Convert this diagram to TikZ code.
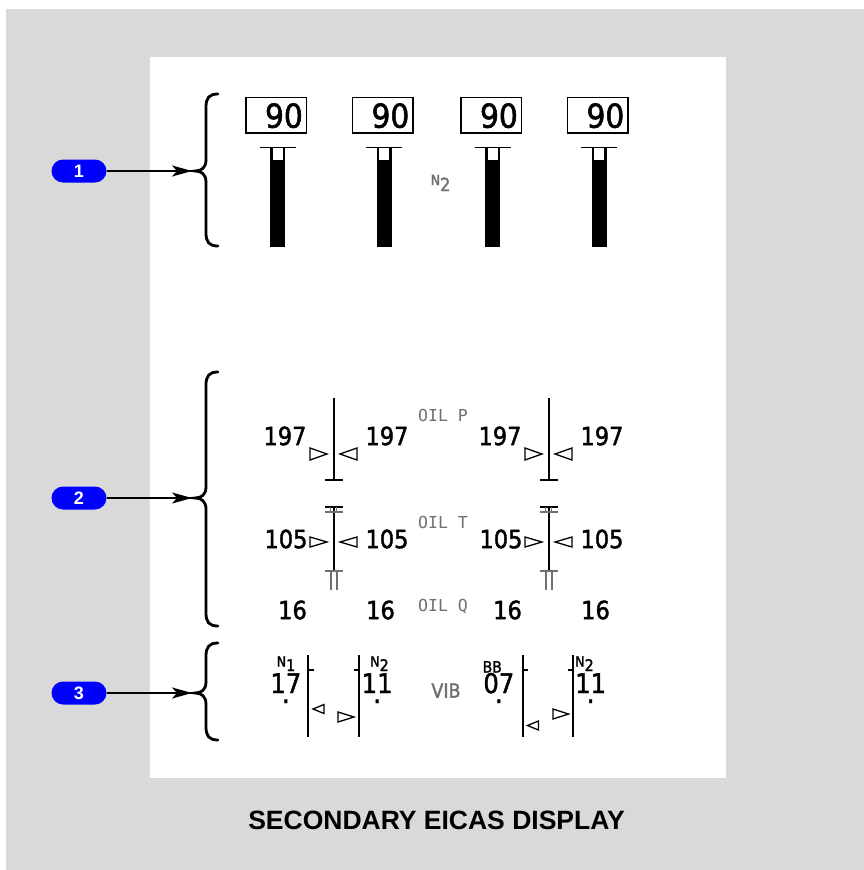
\documentclass[tikz,border=0pt]{standalone}
\usepackage{fontspec}
\setmainfont{DejaVu Sans}
\newfontfamily\digf{DejaVu Sans Condensed}[FakeBold=1.6]
\newfontfamily\monof{DejaVu Sans Mono}
\newfontfamily\titf{Liberation Sans}
\usetikzlibrary{arrows.meta}
\definecolor{bggray}{RGB}{217,217,217}
\definecolor{lblgray}{RGB}{112,112,112}
\definecolor{pillblue}{RGB}{0,0,255}
\newcommand\vnum[2]{#1\makebox[0pt]{\raisebox{-10pt}{.}}#2}
\newcommand\mybrace[4]{%
  \draw[bracestyle] (218,#1) .. controls (209,#1) and (206,{#1+4}) .. (206,{#1+13})
    -- (206,{#2-11}) .. controls (206,{#2-3}) and (201,#2) .. (195,#2)
    .. controls (201,#2) and (206,{#2+3}) .. (206,{#2+11})
    -- (206,{#3-13}) .. controls (206,{#3-4}) and (209,#3) .. (218,#3);
  \coordinate (#4) at (192,#2);}
\begin{document}
\begin{tikzpicture}[x=1pt,y=-1pt,
  bracestyle/.style={line width=2.8pt, line cap=round},
  pill/.style={fill=pillblue, rounded corners=11.5pt, minimum width=55pt, minimum height=23pt,
     inner sep=0pt, text=white, font=\titf\bfseries\fontsize{18}{18}\selectfont},
  callarrow/.style={line width=1.5pt, -{Stealth[length=20pt,width=11pt,inset=5pt]}},
  n2box/.style={draw, line width=1.5pt, minimum width=60.5pt, minimum height=35.5pt, inner sep=0pt},
  bignum/.style={font=\digf\fontsize{33}{33}\selectfont, inner sep=0pt},
  num/.style={font=\digf\fontsize{25}{25}\selectfont, inner sep=0pt},
  vnumst/.style={font=\digf\fontsize{27}{27}\selectfont, inner sep=0pt},
  smlbl/.style={font=\digf\fontsize{14}{14}\selectfont, inner sep=0pt},
  monolbl/.style={font=\monof\fontsize{16.5}{16.5}\selectfont, inner sep=0pt, text=lblgray},
  gline/.style={line width=1.8pt},
  gray line/.style={line width=1.8pt, draw=lblgray},
  tri/.style={line width=1.3pt, line join=miter}
]
\useasboundingbox (0,0) rectangle (864,870);
\fill[white] (0,0) rectangle (864,870);
\fill[bggray] (6,9) rectangle (864,870);
\fill[white] (150,57) rectangle (726,778);

% ---------- N2 section ----------
\foreach \cx [count=\i] in {277.5,384,492.5,599}{
  \node[n2box] (box\i) at ({\cx-1.25},115) {};
  \node[bignum, anchor=base east] (val\i) at ({\cx+25.5},127.7) {90};
  \fill ({\cx-7.5},147.7) rectangle ({\cx+7.5},247);
  \fill[white] ({\cx-5},147.7) rectangle ({\cx+5},160);
  \draw[line width=1.5pt] ({\cx-18},147.7) -- ({\cx+18},147.7);
}
\node[inner sep=0pt, anchor=base west, text=lblgray] (n2lbl) at (430.5,185)
  {\digf\fontsize{14}{14}\selectfont N\raisebox{-6pt}{\fontsize{18}{18}\selectfont 2}};

% ---------- Oil section ----------
\foreach \lx [count=\i] in {334,549}{
  % OIL P
  \draw[gline] (\lx,398) -- (\lx,480);
  \draw[gline] ({\lx-9},480) -- ({\lx+9},480);
  \draw[tri] ({\lx-24},448) -- ({\lx-24},460) -- ({\lx-7},454) -- cycle;
  \draw[tri] ({\lx+6},454) -- ({\lx+23},448) -- ({\lx+23},460) -- cycle;
  \node[num] (pl\i) at ({\lx-49},436) {197};
  \node[num] (pr\i) at ({\lx+53},436) {197};
  % OIL T
  \draw[gline] (\lx,507) -- (\lx,571);
  \draw[gline] ({\lx-9},507) -- ({\lx+9},507);
  \draw[gray line] ({\lx-9},512) -- ({\lx+9},512);
  \draw[gray line, line width=1.3pt] ({\lx-3.3},507) -- ({\lx-3.3},512);
  \draw[gray line, line width=1.3pt] ({\lx+2.7},507) -- ({\lx+2.7},512);
  \draw[gray line] ({\lx-9},571) -- ({\lx+9},571);
  \draw[gray line] ({\lx-3.3},571) -- ({\lx-3.3},590);
  \draw[gray line] ({\lx+2.7},571) -- ({\lx+2.7},590);
  \draw[tri] ({\lx-24},537) -- ({\lx-24},547) -- ({\lx-7},542) -- cycle;
  \draw[tri] ({\lx+6},542) -- ({\lx+23},537) -- ({\lx+23},547) -- cycle;
  \node[num] (tl\i) at ({\lx-48},539) {105};
  \node[num] (tr\i) at ({\lx+53},539) {105};
  % OIL Q
  \node[num, anchor=east] (ql\i) at ({\lx-27},610) {16};
  \node[num, anchor=west] (qr\i) at ({\lx+32},610) {16};
}
\node[monolbl, anchor=base west] (oilp) at (418,421.7) {OIL P};
\node[monolbl, anchor=base west] (oilt) at (418,528) {OIL T};
\node[monolbl, anchor=base west] (oilq) at (418,611) {OIL Q};

% ---------- VIB section ----------
% gauge A
\draw[gline] (308.3,655) -- (308.3,737);
\draw[gline] (359,655) -- (359,737);
\draw[gline] (308.3,670) -- (313.5,670);
\draw[gline] (353.5,670) -- (359,670);
\draw[tri] (313,709) -- (324,704.5) -- (324,713.5) -- cycle;
\draw[tri] (338,712) -- (338,722) -- (354,717) -- cycle;
% gauge B
\draw[gline] (522.7,655) -- (522.7,737);
\draw[gline] (573.3,655) -- (573.3,737);
\draw[gline] (522.7,670) -- (528,670);
\draw[gline] (568,670) -- (573.3,670);
\draw[tri] (527.5,725.5) -- (538.5,721) -- (538.5,730) -- cycle;
\draw[tri] (553,709) -- (553,719) -- (568.5,714) -- cycle;

\node[smlbl, anchor=base west] (n1a) at (276.5,666.5)
  {N\raisebox{-4.5pt}{\fontsize{16}{16}\selectfont 1}};
\node[smlbl, anchor=base west] (n2a) at (370,666.5)
  {N\raisebox{-4.5pt}{\fontsize{16}{16}\selectfont 2}};
\node[smlbl, anchor=base west, font=\digf\fontsize{15.5}{15.5}\selectfont] (bbb) at (482.5,672.5) {BB};
\node[smlbl, anchor=base west] (n2b) at (575,666.5)
  {N\raisebox{-4.5pt}{\fontsize{16}{16}\selectfont 2}};

\node[vnumst, anchor=base east] (va) at (301.5,693) {\vnum{1}{7}};
\node[vnumst, anchor=base west] (vb) at (361.5,693) {\vnum{1}{1}};
\node[vnumst, anchor=base east] (vc) at (514.5,693) {\vnum{0}{7}};
\node[vnumst, anchor=base west] (vd) at (575,693) {\vnum{1}{1}};
\node[inner sep=0pt, text=lblgray, font=\digf\fontsize{19.5}{19.5}\selectfont] (vib) at (446,690.5) {VIB};

% ---------- braces and callouts ----------
\mybrace{94}{171}{246}{t1}
\mybrace{372}{498}{626}{t2}
\mybrace{643}{693}{740}{t3}
\node[pill] (c1) at (79,171) {1};
\node[pill] (c2) at (79,498) {2};
\node[pill] (c3) at (79,693) {3};
\draw[callarrow] (c1) -- (t1);
\draw[callarrow] (c2) -- (t2);
\draw[callarrow] (c3) -- (t3);

% ---------- title ----------
\node[inner sep=0pt, anchor=base, font=\titf\bfseries\fontsize{26.5}{26.5}\selectfont] (title) at (436.5,829.3)
  {SECONDARY EICAS DISPLAY};
\end{tikzpicture}
\end{document}
